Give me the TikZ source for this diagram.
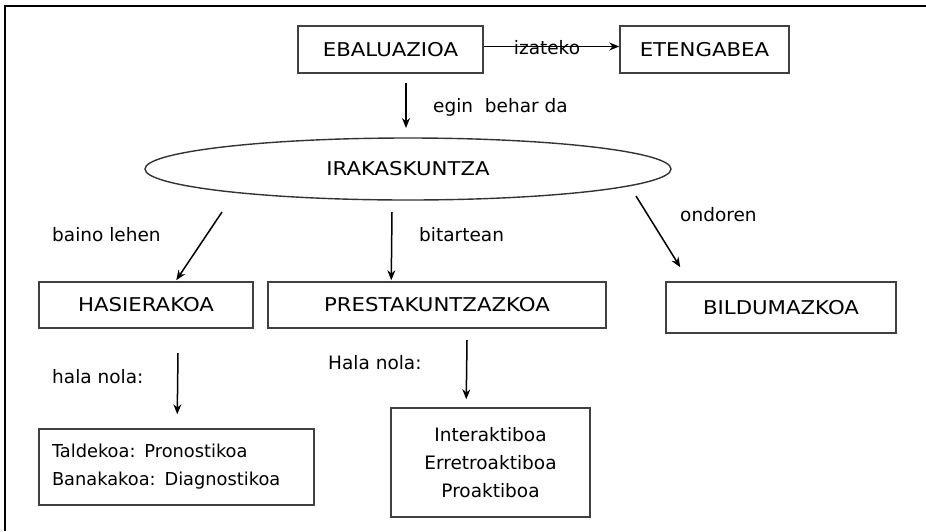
\documentclass[tikz,border=0pt]{standalone}
\usepackage{fontspec}
\setmainfont{DejaVu Sans}
\newfontfamily\capsfont[FakeStretch=1.12]{DejaVu Sans}
\usetikzlibrary{arrows.meta,calc,shapes.geometric}
\begin{document}
\begin{tikzpicture}[x=1pt,y=-1pt,
  every node/.style={font=\fontsize{18.5}{28}\selectfont, inner sep=0pt},
  boxnode/.style={draw=black!75, line width=1.5pt, rectangle, align=center},
  capsnode/.style={font=\capsfont\fontsize{19}{28}\selectfont},
  arr/.style={draw=black, line width=1.5pt, -{Stealth[length=10pt,width=8pt]}},
  lbl/.style={anchor=west}]
\useasboundingbox (0,0) rectangle (926,531);
% frame
\draw[line width=1.5pt] (5,531) -- (5,6) -- (926,6);
% top boxes
\node[boxnode, capsnode, minimum width=185pt, minimum height=47pt] (eba) at (390.5,49.5) {EBALUAZIOA};
\node[boxnode, capsnode, minimum width=169pt, minimum height=47pt] (ete) at (704.5,49.5) {ETENGABEA};
\draw[arr] (eba.east |- 0,46.5) -- (ete.west |- 0,46.5);
\node (iz) at (547,47.5) {izateko};
% ellipse
\node[draw=black!80, line width=1.4pt, ellipse, capsnode, minimum width=526pt, minimum height=62pt] (irak) at (408,169) {IRAKASKUNTZA};
\coordinate (d0) at (406,83);
\coordinate (d1) at (406,128);
\draw[arr] (d0) -- (d1);
\node[lbl] (egin) at (433,107) {egin\ \ behar da};
% middle row
\node[boxnode, capsnode, minimum width=214pt, minimum height=46pt] (has) at (146,305) {HASIERAKOA};
\node[boxnode, capsnode, minimum width=338pt, minimum height=46pt] (pre) at (437,305) {PRESTAKUNTZAZKOA};
\node[boxnode, capsnode, minimum width=230pt, minimum height=51pt] (bil) at (781,307.5) {BILDUMAZKOA};
\coordinate (a1) at (222,212);
\coordinate (a2) at (392,212);
\coordinate (a3) at (636,196);
\draw[arr] (a1) -- ($(has.north west)+(138,-1)$);
\draw[arr] (a2) -- ($(pre.north west)+(124,-1)$);
\draw[arr] (a3) -- ($(bil.north west)+(15,-14)$);
\node[lbl] (bl) at (52,235) {baino lehen};
\node[lbl] (bt) at (419,235) {bitartean};
\node[lbl] (on) at (680,215) {ondoren};
% bottom
\node[lbl] (hn1) at (52,377) {hala nola:};
\node[lbl] (hn2) at (328,363) {Hala nola:};
\node[boxnode, minimum height=76pt, text width=249pt, inner xsep=13pt, align=left, font=\fontsize{17.8}{28}\selectfont] (tal) at (176.5,467) {Taldekoa: Pronostikoa\\Banakakoa: Diagnostikoa};
\node[boxnode, minimum width=199pt, minimum height=109pt] (int) at (490.5,462.5) {Interaktiboa\\Erretroaktiboa\\Proaktiboa};
\coordinate (b1) at (178,353);
\coordinate (b2) at (467,340);
\draw[arr] (b1) -- ($(tal.north west)+(139,-14)$);
\draw[arr] (b2) -- ($(int.north west)+(76,-8)$);
\end{tikzpicture}
\end{document}
